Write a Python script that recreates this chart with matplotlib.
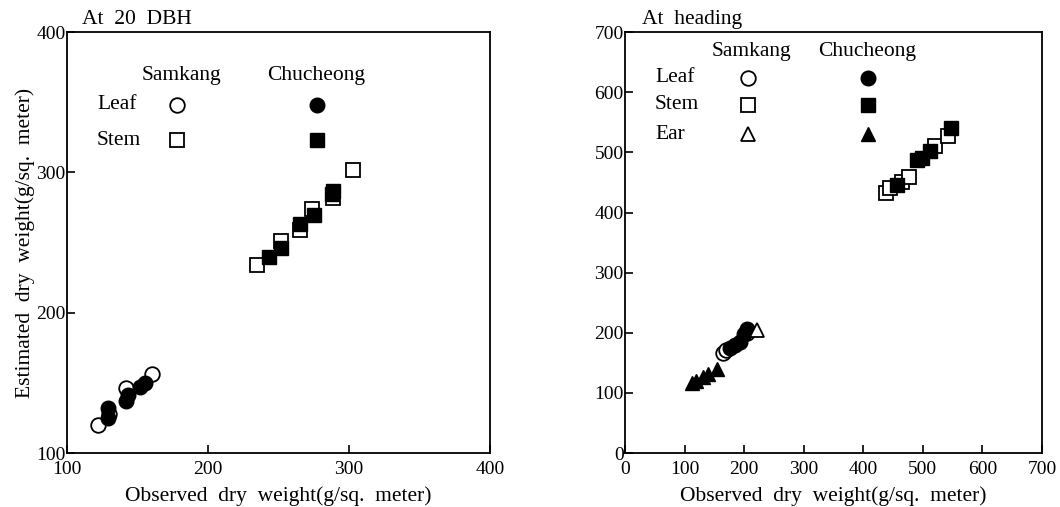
import matplotlib
matplotlib.use("Agg")
import matplotlib.pyplot as plt

plt.rcParams['font.family'] = ['Liberation Serif', 'DejaVu Serif']

# --- At 20 DBH (left panel) ---
dbh_sam_leaf_x = [122, 142, 160, 130]
dbh_sam_leaf_y = [120, 146, 156, 128]
dbh_chu_leaf_x = [129, 129, 142, 143, 152, 155]
dbh_chu_leaf_y = [132, 125, 137, 141, 147, 150]
dbh_sam_stem_x = [235, 252, 265, 274, 289, 303]
dbh_sam_stem_y = [234, 251, 259, 274, 282, 302]
dbh_chu_stem_x = [243, 252, 265, 275, 288, 289]
dbh_chu_stem_y = [240, 246, 263, 270, 285, 287]

# --- At heading (right panel) ---
hd_sam_leaf_x = [165, 170, 204]
hd_sam_leaf_y = [166, 172, 200]
hd_chu_leaf_x = [176, 185, 193, 200, 205]
hd_chu_leaf_y = [174, 180, 185, 198, 207]
hd_sam_stem_x = [439, 445, 465, 476, 520, 542]
hd_sam_stem_y = [432, 440, 451, 459, 510, 528]
hd_chu_stem_x = [456, 490, 498, 512, 548]
hd_chu_stem_y = [446, 487, 490, 502, 540]
hd_sam_ear_x = [221]
hd_sam_ear_y = [204]
hd_chu_ear_x = [112, 120, 131, 140, 154]
hd_chu_ear_y = [116, 119, 127, 131, 140]

xlab = 'Observed  dry  weight(g/sq.  meter)'
ylab = 'Estimated  dry  weight(g/sq.  meter)'

fig = plt.figure(figsize=(10.6, 5.07), dpi=100)
ax1 = fig.add_axes([0.0632, 0.1065, 0.399, 0.830])
ax2 = fig.add_axes([0.5896, 0.1065, 0.3934, 0.830])

FS_T = 14   # tick labels
FS_L = 15.5 # axis labels, legend text
ms = 10.5

def style(ax):
    for s in ax.spines.values():
        s.set_linewidth(1.3)
    ax.tick_params(direction='in', length=6, width=1.2, labelsize=FS_T,
                   top=False, right=False)
    ax.tick_params(axis='y', pad=1)
    ax.tick_params(axis='x', pad=6)

def op(ax, x, y, m, size=ms, **kw):
    ax.plot(x, y, m, ls='none', ms=size, mfc='white', mec='black', mew=1.3, **kw)

def fl(ax, x, y, m, size=ms, **kw):
    ax.plot(x, y, m, ls='none', ms=size, mfc='black', mec='black', mew=1.0, **kw)

# left
op(ax1, dbh_sam_leaf_x, dbh_sam_leaf_y, 'o')
fl(ax1, dbh_chu_leaf_x, dbh_chu_leaf_y, 'o')
op(ax1, dbh_sam_stem_x, dbh_sam_stem_y, 's')
fl(ax1, dbh_chu_stem_x, dbh_chu_stem_y, 's')
ax1.set_xlim(100, 400)
ax1.set_ylim(100, 400)
ax1.set_xticks([100, 200, 300, 400])
ax1.set_yticks([100, 200, 300, 400])
style(ax1)
ax1.set_xlabel(xlab, fontsize=FS_L, labelpad=6)
ax1.set_ylabel(ylab, fontsize=FS_L, labelpad=1)
ax1.text(0.035, 1.008, 'At  20  DBH', transform=ax1.transAxes, fontsize=FS_L, va='bottom')

# legend left
ax1.text(0.271, 0.898, 'Samkang', transform=ax1.transAxes, fontsize=FS_L, va='center', ha='center')
ax1.text(0.590, 0.898, 'Chucheong', transform=ax1.transAxes, fontsize=FS_L, va='center', ha='center')
ax1.text(0.073, 0.827, 'Leaf', transform=ax1.transAxes, fontsize=FS_L, va='center')
ax1.text(0.070, 0.743, 'Stem', transform=ax1.transAxes, fontsize=FS_L, va='center')
for yy, m in [(0.827, 'o'), (0.743, 's')]:
    op(ax1, [0.259], [yy], m, transform=ax1.transAxes)
    fl(ax1, [0.591], [yy], m, transform=ax1.transAxes)

# right
op(ax2, hd_sam_leaf_x, hd_sam_leaf_y, 'o')
fl(ax2, hd_chu_leaf_x, hd_chu_leaf_y, 'o')
op(ax2, hd_sam_stem_x, hd_sam_stem_y, 's')
fl(ax2, hd_chu_stem_x, hd_chu_stem_y, 's')
op(ax2, hd_sam_ear_x, hd_sam_ear_y, '^')
fl(ax2, hd_chu_ear_x, hd_chu_ear_y, '^')
ax2.set_xlim(0, 700)
ax2.set_ylim(0, 700)
ax2.set_xticks(range(0, 701, 100))
ax2.set_yticks(range(0, 701, 100))
style(ax2)
ax2.set_xlabel(xlab, fontsize=FS_L, labelpad=6)
ax2.text(0.04, 1.008, 'At  heading', transform=ax2.transAxes, fontsize=FS_L, va='bottom')

ax2.text(0.304, 0.953, 'Samkang', transform=ax2.transAxes, fontsize=FS_L, va='center', ha='center')
ax2.text(0.581, 0.953, 'Chucheong', transform=ax2.transAxes, fontsize=FS_L, va='center', ha='center')
for yy, lab, m in [(0.892, 'Leaf', 'o'), (0.827, 'Stem', 's'), (0.758, 'Ear', '^')]:
    ax2.text(0.072, yy, lab, transform=ax2.transAxes, fontsize=FS_L, va='center')
    op(ax2, [0.296], [yy], m, transform=ax2.transAxes)
    fl(ax2, [0.583], [yy], m, transform=ax2.transAxes)

fig.savefig('out.png', dpi=100)
